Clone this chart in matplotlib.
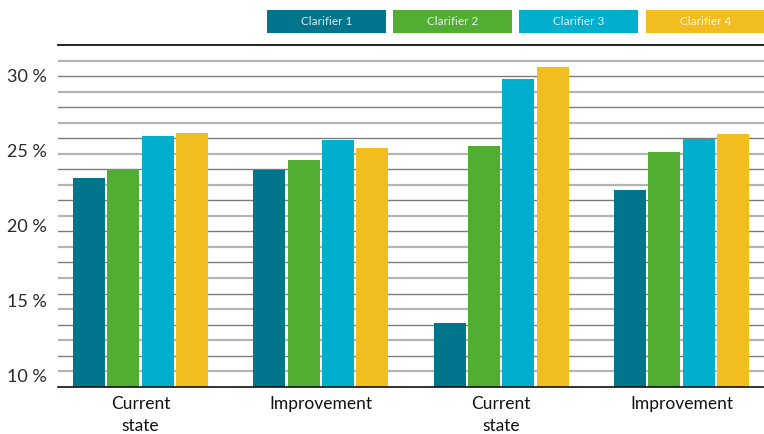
import numpy as np
import matplotlib
matplotlib.use("Agg")
import matplotlib.pyplot as plt
from matplotlib.patches import Rectangle

# Data
categories = ["Current\nstate", "Improvement", "Current\nstate", "Improvement"]
series_names = ["Clarifier 1", "Clarifier 2", "Clarifier 3", "Clarifier 4"]
clarifier_1 = [23.2, 23.7, 13.5, 22.4]
clarifier_2 = [23.8, 24.4, 25.3, 24.9]
clarifier_3 = [26.0, 25.7, 29.8, 25.8]
clarifier_4 = [26.2, 25.2, 30.6, 26.1]
y_ticks = [10, 15, 20, 25, 30]
y_tick_labels = ["10 %", "15 %", "20 %", "25 %", "30 %"]

series = [clarifier_1, clarifier_2, clarifier_3, clarifier_4]
colors = ["#00758c", "#52ad33", "#00afcc", "#f2bd1e"]

plt.rcParams["font.family"] = ["Lato", "DejaVu Sans"]

fig = plt.figure(figsize=(7.64, 4.34), dpi=100)
ax = fig.add_axes([0.0759, 0.109, 0.9241, 0.7873])

ymin, ymax = 9.22, 32.06
ax.set_ylim(ymin, ymax)
ax.set_xlim(-0.4576, 3.4576)

# Decorative horizontal rules, alternating light and dark
rules = np.linspace(ymin, ymax, 23)[1:-1]
for i, yv in enumerate(rules[::-1]):
    if i % 2 == 0:
        ax.axhline(yv, color="#b4b4b4", lw=1.6, zorder=1)
    else:
        ax.axhline(yv, color="#7c7c7c", lw=1.0, zorder=1)

x = np.arange(len(categories))
pitch = 0.19
width = 0.1775
for i, (vals, col) in enumerate(zip(series, colors)):
    ax.bar(x + (i - 1.5) * pitch, np.array(vals) - ymin, bottom=ymin,
           width=width, color=col, zorder=2, linewidth=0)

for side in ["left", "right"]:
    ax.spines[side].set_visible(False)
ax.spines["top"].set_color("#111111")
ax.spines["top"].set_linewidth(1.3)
ax.spines["bottom"].set_color("#111111")
ax.spines["bottom"].set_linewidth(1.2)
ax.spines["bottom"].set_zorder(3)

ax.set_yticks(y_ticks)
ax.set_yticklabels(y_tick_labels, fontsize=13, color="#2a2a2a")
ax.set_xticks(x)
ax.set_xticklabels(categories, fontsize=12.5, color="#111111", linespacing=1.4)
ax.tick_params(axis="both", length=0)
ax.tick_params(axis="y", pad=8)
ax.tick_params(axis="x", pad=7)

# Legend as coloured boxes across the top
box_left = [267, 393, 519, 646]
box_w, box_top, box_h = 119, 10, 23
W, H = 764, 434
for name, col, bl in zip(series_names, colors, box_left):
    fig.add_artist(Rectangle((bl / W, 1 - (box_top + box_h) / H), box_w / W, box_h / H,
                             transform=fig.transFigure, facecolor=col, edgecolor="none"))
    fig.text((bl + box_w / 2) / W, 1 - (box_top + box_h / 2) / H, name,
             ha="center", va="center", fontsize=8.5, color="white", alpha=0.85)

fig.savefig("out.png", dpi=100)
